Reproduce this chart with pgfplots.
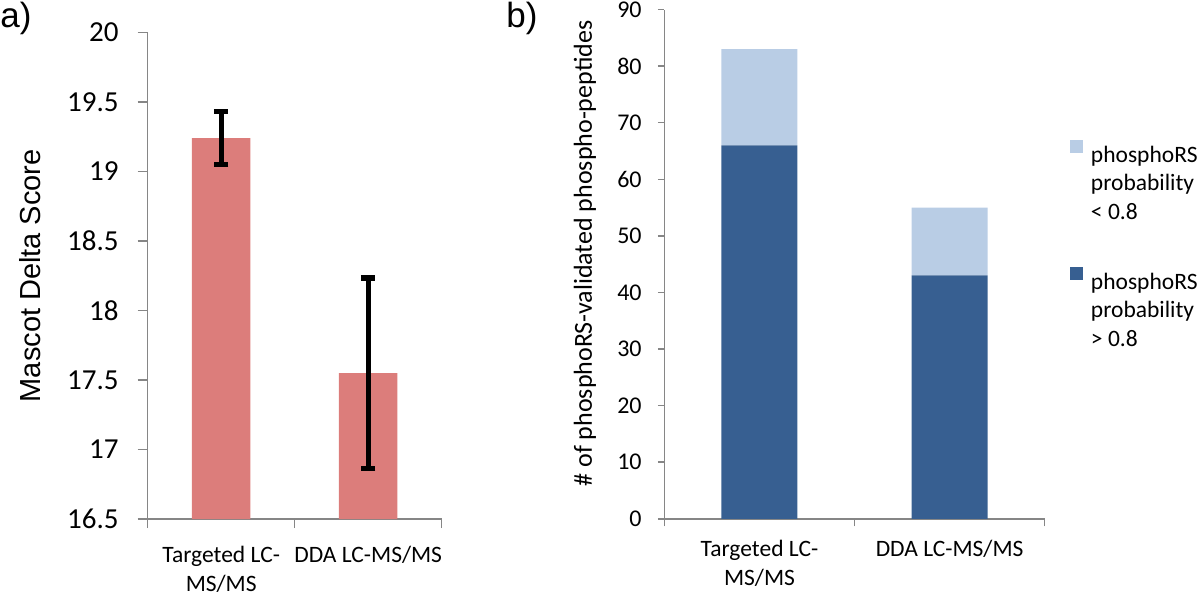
\documentclass[border=0pt]{standalone}
\usepackage{fontspec}
\setmainfont{Carlito}
\newfontfamily\arialf{Liberation Sans}
\usepackage{pgfplots}
\pgfplotsset{compat=1.18}
\definecolor{pinkbar}{RGB}{220,125,123}
\definecolor{darkblue}{RGB}{55,95,145}
\definecolor{lightblue}{RGB}{185,205,229}
\definecolor{axgray}{RGB}{134,134,134}
\pgfplotsset{sqlegend/.style={legend image code/.code={\fill[##1] (0pt,0.5pt) rectangle (6.5pt,7pt);}}}
\begin{document}
\begin{tikzpicture}[x=1pt,y=1pt]
\path[use as bounding box] (0,0) rectangle (600,298);
\node[anchor=base west, inner sep=0pt, font=\arialf\fontsize{17.5}{20}\selectfont] at (0,284) {a)};
\node[anchor=base west, inner sep=0pt, font=\arialf\fontsize{17.5}{20}\selectfont] at (253,284) {b)};
% panel a
\begin{axis}[
  at={(73.85pt,38.4pt)}, anchor=south west,
  width=147pt, height=243.45pt, scale only axis,
  xmin=-0.5, xmax=1.5, ymin=16.5, ymax=20,
  ytick={16.5,17,17.5,18,18.5,19,19.5,20},
  yticklabels={16.5,17,17.5,18,18.5,19,19.5,20},
  yticklabel style={font=\fontsize{14.5}{17}\selectfont, anchor=east, inner sep=0pt, xshift=-9.35pt},
  axis lines=left, axis line style={-, draw=axgray, line width=0.75pt},
  tick style={draw=axgray, line width=0.75pt},
  tick align=outside, major tick length=5pt,
  xtick={0,1}, major x tick style={draw=none},
  minor xtick={-0.5,0.5,1.5}, minor tick length=4.5pt,
  xticklabels={{\begin{tabular}[t]{@{}c@{}}Targeted LC-\\MS/MS\end{tabular}},{\begin{tabular}[t]{@{}c@{}}DDA LC-MS/MS\end{tabular}}},
  xticklabel style={font=\fontsize{11.75}{14.5}\selectfont, anchor=base, inner sep=0pt, yshift=-16.5pt},
  ylabel={Mascot Delta Score},
  every axis y label/.style={at={(axis description cs:-0.4003,0.5)}, rotate=90, anchor=center, font=\arialf\fontsize{14.5}{17}\selectfont},
  ybar, bar width=29.2pt,
]
\addplot[fill=pinkbar, draw=none,
  error bars/.cd, y dir=both, y explicit,
  error bar style={line width=2.4pt, black},
  error mark options={black, line width=2.8pt, mark size=3.6pt, rotate=90}]
  coordinates {(0,19.24) +- (0,0.19) (1,17.55) +- (0,0.685)};
\end{axis}
% panel b
\begin{axis}[
  at={(332.2pt,38.6pt)}, anchor=south west,
  width=190.15pt, height=254.65pt, scale only axis,
  xmin=-0.5, xmax=1.5, ymin=0, ymax=90,
  ytick={0,10,...,90},
  /pgf/number format/assume math mode=true,
  yticklabel style={font=\fontsize{12}{14}\selectfont, anchor=east, inner sep=0pt, xshift=-7.95pt},
  axis lines=left, axis line style={-, draw=axgray, line width=0.75pt},
  tick style={draw=axgray, line width=0.75pt},
  tick align=outside, major tick length=3.25pt,
  xtick={0,1}, major x tick style={draw=none},
  minor xtick={-0.5,0.5,1.5}, minor tick length=3.8pt,
  xticklabels={{\begin{tabular}[t]{@{}c@{}}Targeted LC-\\MS/MS\end{tabular}},{\begin{tabular}[t]{@{}c@{}}DDA LC-MS/MS\end{tabular}}},
  xticklabel style={font=\fontsize{11.75}{14.5}\selectfont, anchor=base, inner sep=0pt, yshift=-15.75pt},
  ylabel={\# of phosphoRS-validated phospho-peptides},
  every axis y label/.style={at={(axis description cs:-0.2088,0.521)}, rotate=90, anchor=center, font=\fontsize{13}{15}\selectfont},
  ybar stacked, bar width=38pt,
  legend style={draw=none, fill=none, at={(axis description cs:1.0665,0.7438)}, anchor=north west,
    inner sep=0pt, outer sep=0pt, row sep=50.75pt, column sep=4pt,
    nodes={inner sep=0pt}, font=\fontsize{11.75}{14.25}\selectfont},
  legend cell align=left, reverse legend,
]
\addplot[fill=darkblue, draw=none, sqlegend] coordinates {(0,66) (1,43)};
\addplot[fill=lightblue, draw=none, sqlegend] coordinates {(0,17) (1,12)};
\legend{{\begin{tabular}[t]{@{}l@{}}phosphoRS\\probability\\> 0.8\end{tabular}},{\begin{tabular}[t]{@{}l@{}}phosphoRS\\probability\\< 0.8\end{tabular}}}
\end{axis}
\end{tikzpicture}
\end{document}
